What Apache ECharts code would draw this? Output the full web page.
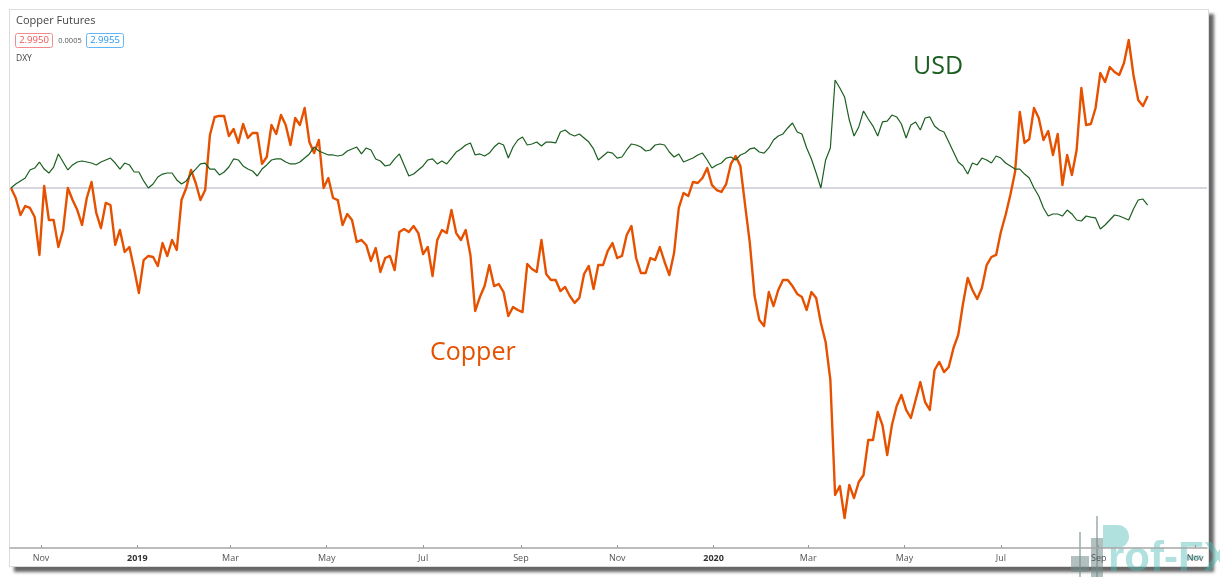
<!DOCTYPE html>
<html><head><meta charset="utf-8">
<script src="https://cdn.jsdelivr.net/npm/echarts@6/dist/echarts.min.js"></script>
<style>
html,body{margin:0;padding:0;background:#fff;width:1220px;height:577px;overflow:hidden;}
#panel{position:absolute;left:9px;top:9px;width:1198px;height:556px;background:#fff;border:1px solid #dcdcdc;box-shadow:5px 5px 3px rgba(0,0,0,0.6);}
#chart{position:absolute;left:0;top:0;width:1220px;height:577px;}
</style></head><body>
<div id="panel"></div><div id="chart"></div>
<script>
// sampling calendar of the readings (every 3 calendar days)
const startDate = '2018-10-13';
const stepDays = 3;
// % change since start (comparison mode)
const copper = [
0,-0.78,-2.11,-1.41,-1.56,-2.27,-5.23,0.16,-2.5,-2.5,
-4.61,-3.28,0,-0.94,-1.72,-2.89,-0.78,0.47,-1.95,-3.13,
-1.17,-1.33,-4.45,-3.28,-5.0,-4.61,-6.33,-8.2,-5.63,-5.31,
-5.39,-6.09,-4.3,-5.31,-4.06,-4.84,-0.94,0,1.41,0.39,
-0.94,-0.16,4.14,5.55,5.63,5.63,4.06,4.61,3.52,5.0,
3.91,4.3,4.3,1.88,2.42,4.92,4.22,5.7,4.92,3.36,
5.47,4.92,6.25,3.59,2.73,3.75,0,0.78,-0.78,-0.94,
-2.89,-2.03,-2.5,-4.22,-4.06,-4.45,-5.7,-4.69,-6.56,-5.47,
-5.31,-6.41,-3.44,-3.2,-3.44,-2.97,-3.52,-5.16,-4.61,-6.88,
-4.06,-3.28,-3.52,-1.72,-3.52,-4.06,-3.28,-5.23,-9.61,-8.52,
-7.66,-6.02,-7.66,-7.5,-8.13,-10.0,-9.3,-9.53,-9.69,-5.94,
-6.33,-6.56,-4.06,-6.72,-7.19,-7.19,-8.05,-7.73,-8.44,-8.98,
-8.59,-6.72,-6.09,-7.89,-6.02,-6.02,-4.92,-4.3,-5.47,-5.31,
-3.67,-2.97,-5.47,-6.64,-6.64,-5.47,-5.63,-4.61,-5.78,-6.8,
-5.08,-1.56,-0.39,-0.63,0.47,0.39,0.78,1.56,0.23,-0.16,
-0.31,0.31,1.88,2.5,1.72,-1.33,-4.3,-8.44,-10.31,-10.78,
-8.13,-9.22,-7.97,-7.19,-7.19,-7.66,-8.28,-8.52,-9.53,-8.13,
-8.59,-10.55,-12.03,-15.0,-23.98,-23.28,-25.78,-23.2,-24.22,-22.97,
-22.42,-19.69,-19.69,-17.5,-18.52,-20.86,-18.52,-17.03,-16.17,-17.34,
-17.97,-16.56,-15.16,-16.72,-17.34,-14.22,-13.59,-14.38,-13.98,-12.5,
-11.48,-9.06,-7.03,-7.97,-8.67,-7.81,-6.02,-5.39,-5.23,-3.44,
-2.11,-0.55,1.25,5.94,3.52,3.83,6.25,5.47,3.75,4.45,
2.58,4.22,0.23,2.58,1.02,2.97,7.81,4.92,5.0,6.25,
8.98,8.28,9.45,9.06,8.83,9.77,11.56,8.83,6.88,6.41,7.19
];
const usd = [
0,0.31,0.55,0.78,1.41,1.56,2.03,1.48,1.17,1.64,
2.66,2.03,1.41,1.8,2.03,2.11,2.03,1.95,1.8,2.03,
2.19,2.34,1.95,1.48,1.95,1.8,1.25,1.25,0.55,0,
0.31,0.86,1.09,1.17,1.17,0.63,0.31,0.55,1.09,1.48,
1.88,1.95,1.48,1.48,1.02,1.25,1.64,2.27,2.19,1.72,
1.48,1.33,0.94,1.48,1.8,2.19,2.27,2.27,2.03,1.88,
1.88,2.03,2.34,2.66,3.2,2.89,2.73,2.58,2.58,2.5,
2.58,2.89,3.05,3.2,2.66,3.13,2.97,2.27,2.11,1.72,
1.8,2.27,2.66,1.8,0.94,1.09,1.41,1.72,2.19,2.27,
1.88,2.11,1.88,2.34,2.81,3.05,3.36,3.52,2.58,2.66,
2.5,2.73,3.2,3.52,3.36,2.34,3.2,3.75,3.98,3.36,
3.44,3.59,3.28,3.59,3.59,3.52,4.38,4.53,4.22,4.06,
4.22,3.91,3.59,3.05,2.19,2.5,2.81,2.73,2.34,2.42,
2.97,3.44,3.36,3.2,2.89,2.97,3.36,3.44,3.36,2.81,
2.42,2.66,2.03,2.19,2.34,2.58,2.73,2.19,1.56,1.8,
1.95,2.34,2.42,2.19,2.58,2.73,3.05,3.13,2.81,2.73,
3.13,3.75,4.06,4.22,4.69,5.08,4.38,4.22,3.13,2.27,
1.17,0,2.19,3.13,8.44,7.81,7.11,5.31,4.06,4.77,
6.02,5.39,4.84,4.06,5.16,5.23,5.7,5.55,5.0,3.91,
4.92,5.16,4.53,5.47,5.55,4.84,4.53,4.38,3.59,2.81,
2.03,1.72,1.09,1.95,1.8,2.34,2.19,1.95,2.5,2.34,
1.95,1.72,1.48,1.48,1.09,0.78,0,-0.63,-1.56,-2.19,
-2.03,-2.03,-2.19,-1.72,-2.03,-2.5,-2.58,-2.19,-2.27,-2.34,
-3.2,-2.89,-2.5,-2.11,-2.19,-2.34,-2.5,-1.64,-0.94,-0.86,-1.33
];
const tickDates = ['2018-11-01','2019-01-01','2019-03-01','2019-05-01','2019-07-01','2019-09-01','2019-11-01','2020-01-01','2020-03-01','2020-05-01','2020-07-01','2020-09-01','2020-11-01'];
const tickLabels = ['Nov','2019','Mar','May','Jul','Sep','Nov','2020','Mar','May','Jul','Sep','Nov'];
const baselineValue = 0;
const titleText = 'Copper Futures';
const legendValues = ['2.9950','0.0005','2.9955'];
const compareName = 'DXY';

const DAY = 86400000;
const toTs = d => Date.parse(d + 'T00:00:00Z');
const t0 = toTs(startDate);
const dates = copper.map((_, i) => t0 + i * stepDays * DAY);
const tickTs = tickDates.map(toTs);
const xMin = toTs('2018-10-12') + 0.36 * DAY;
const xMax = toTs('2020-11-08') + 0.58 * DAY;

const chart = echarts.init(document.getElementById('chart'), null, {renderer:'canvas'});
const fontFam = '"Open Sans", "Noto Sans", sans-serif';
const wmGray = 'rgba(115,140,140,0.55)';
const wmTeal = 'rgba(80,188,184,0.45)';
chart.setOption({
  animation:false,
  backgroundColor:'transparent',
  grid:{left:10, right:13, top:10, bottom:29},
  xAxis:{
    type:'value', min:xMin, max:xMax, scale:true,
    axisLine:{show:true, onZero:false, lineStyle:{color:'#a6a6a6', width:1.5}},
    axisTick:{show:true, inside:true, length:3, customValues:tickTs, lineStyle:{color:'#999'}},
    axisLabel:{
      customValues:tickTs, margin:6, fontSize:9, color:'#555', fontFamily:fontFam,
      formatter:function(v){
        let k = -1;
        for (let j = 0; j < tickTs.length; j++) { if (Math.abs(tickTs[j] - v) < DAY / 2) { k = j; break; } }
        const s = k >= 0 ? tickLabels[k] : '';
        return /^\d{4}$/.test(s) ? '{y|' + s + '}' : s;
      },
      rich:{y:{fontWeight:'bold', fontSize:9, color:'#333', fontFamily:fontFam}}
    },
    splitLine:{show:false}
  },
  yAxis:{type:'value', show:false, min:-28.125, max:13.906, splitLine:{show:false}},
  series:[
    {type:'line', name:'base', z:1, silent:true, symbol:'none',
     data:[[xMin, baselineValue],[xMax, baselineValue]],
     lineStyle:{color:'#d6d6de', width:2}},
    {type:'line', name:'Copper Futures', z:3, symbol:'none', silent:true,
     data:dates.map((d,i)=>[d, copper[i]]),
     lineStyle:{color:'#e65100', width:2.4, join:'round'}},
    {type:'line', name:'DXY', z:4, symbol:'none', silent:true,
     data:dates.map((d,i)=>[d, usd[i]]),
     lineStyle:{color:'#1b5e20', width:1.2}}
  ],
  graphic:[
    {type:'text', left:16, top:15, z:10, style:{text:titleText, fontSize:11, fill:'#444', fontFamily:fontFam}},
    {type:'rect', shape:{x:15.5, y:33.5, width:37, height:14, r:2}, z:10, style:{fill:'#fff', stroke:'#f28b8b', lineWidth:1}},
    {type:'text', x:34, y:40.5, z:11, style:{text:legendValues[0], fontSize:9.5, fill:'#ef5350', align:'center', verticalAlign:'middle', fontFamily:fontFam}},
    {type:'text', x:70, y:40.5, z:11, style:{text:legendValues[1], fontSize:7.5, fill:'#555', align:'center', verticalAlign:'middle', fontFamily:fontFam}},
    {type:'rect', shape:{x:86.5, y:33.5, width:37, height:14, r:2}, z:10, style:{fill:'#fff', stroke:'#64b5f6', lineWidth:1}},
    {type:'text', x:105, y:40.5, z:11, style:{text:legendValues[2], fontSize:9.5, fill:'#2196f3', align:'center', verticalAlign:'middle', fontFamily:fontFam}},
    {type:'text', left:16, top:54, z:10, style:{text:compareName, fontSize:8.5, fill:'#444', fontFamily:fontFam}},
    {type:'text', left:913, top:54, z:10, style:{text:'USD', fontSize:25, fill:'#1b5e20', fontFamily:fontFam}},
    {type:'text', left:430, top:340, z:10, style:{text:'Copper', fontSize:25, fill:'#e65100', fontFamily:fontFam}},
    {type:'group', z:-5, silent:true, children:[
      {type:'line', shape:{x1:1080, y1:532, x2:1080, y2:577}, style:{stroke:wmGray, lineWidth:2}},
      {type:'rect', shape:{x:1071, y:556, width:18, height:16}, style:{fill:wmGray}},
      {type:'line', shape:{x1:1097, y1:516, x2:1097, y2:577}, style:{stroke:wmGray, lineWidth:2}},
      {type:'rect', shape:{x:1091, y:538, width:12, height:39}, style:{fill:wmGray}},
      {type:'rect', shape:{x:1103, y:525, width:26, height:23, r:[0,12,12,0]}, style:{fill:wmTeal}},
      {type:'text', x:1108, y:580, style:{text:'rof-FX', fontSize:42, fontWeight:'bold', fill:wmTeal, fontFamily:'"Liberation Sans", Arial, sans-serif', verticalAlign:'bottom'}}
    ]}
  ]
});
</script>
</body></html>
